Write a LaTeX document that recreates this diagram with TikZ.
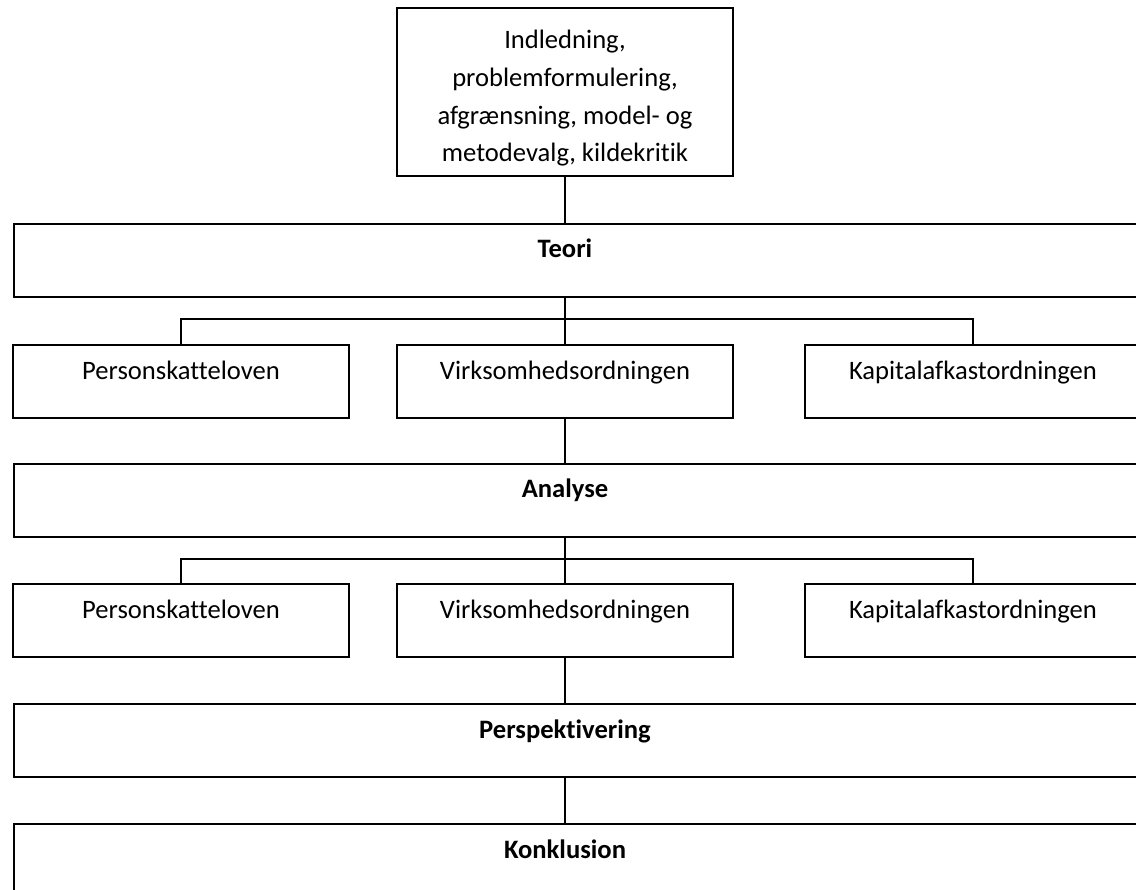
\documentclass[tikz,border=0pt]{standalone}
\usepackage{fontspec}
\setmainfont[Ligatures=NoCommon]{Carlito}
\begin{document}
\begin{tikzpicture}[x=1pt,y=-1pt,
  txt/.style={font=\fontsize{26.6}{37.7}\selectfont, inner sep=0pt},
  boxline/.style={draw=black, line width=1.8pt},
  sub/.style={boxline, minimum width=336pt, inner xsep=0pt, inner ysep=0pt,
    text height=35pt, text depth=38pt, anchor=north, txt},
  wide/.style={boxline, minimum width=1150pt, minimum height=73pt, inner sep=0pt, anchor=north west},
  head/.style={txt, font=\fontsize{26.6}{37.7}\selectfont\bfseries, anchor=base},
  conn/.style={draw=black, line width=1.3pt}
]
\useasboundingbox (0,0) rectangle (1136,890);
\fill[white] (0,0) rectangle (1136,890);

% top box
\node[boxline, minimum width=336pt, minimum height=168pt, inner sep=0pt, anchor=north] (intro) at (565,7) {};
\node[txt, align=center] (introT) at (565,98.5) {Indledning,\\problemformulering,\\afgrænsning, model- og\\metodevalg, kildekritik};

% Teori
\node[wide] (teori) at (13,223) {};
\node[head] (teoriT) at (565,258) {Teori};

\node[sub] (p1) at (181,344) {Personskatteloven};
\node[sub] (v1) at (565,344) {Virksomhedsordningen};
\node[sub] (k1) at (973,344) {Kapitalafkastordningen};

% Analyse
\node[wide] (analyse) at (13,463) {};
\node[head] (analyseT) at (565,498) {Analyse};

\node[sub] (p2) at (181,583) {Personskatteloven};
\node[sub] (v2) at (565,583) {Virksomhedsordningen};
\node[sub] (k2) at (973,583) {Kapitalafkastordningen};

% Perspektivering
\node[wide] (persp) at (13,703) {};
\node[head] (perspT) at (565,738) {Perspektivering};

% Konklusion
\node[wide] (konk) at (13,823) {};
\node[head] (konkT) at (565,858) {Konklusion};

% connectors
\draw[conn] (intro.south) -- (intro.south |- teori.north);
\draw[conn] (v1.north |- teori.south) -- (v1.north);
\draw[conn] (p1.north) -- ++(0,-25) -| (k1.north);
\draw[conn] (v1.south) -- (v1.south |- analyse.north);
\draw[conn] (v2.north |- analyse.south) -- (v2.north);
\draw[conn] (p2.north) -- ++(0,-24) -| (k2.north);
\draw[conn] (v2.south) -- (v2.south |- persp.north);
\draw[conn] (v2.south |- persp.south) -- (v2.south |- konk.north);
\end{tikzpicture}
\end{document}
